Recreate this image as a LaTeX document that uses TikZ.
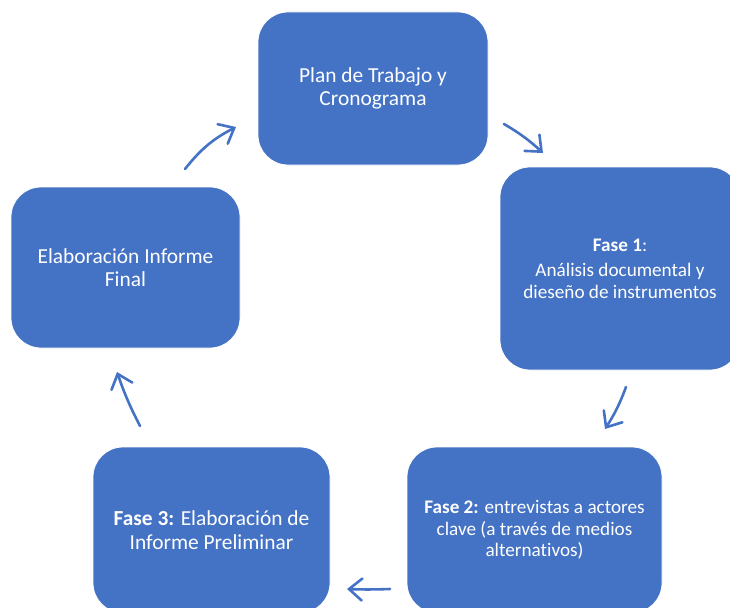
\documentclass[tikz,border=0pt]{standalone}
\usepackage{fontspec}
\setmainfont[Ligatures={NoCommon}]{Carlito}
\usetikzlibrary{arrows.meta}
\definecolor{boxblue}{HTML}{4472C4}
\tikzset{
  phase/.style={rectangle, rounded corners=30pt, fill=boxblue, draw=white, line width=0.8pt,
    text=white, align=center, inner sep=0pt, font=\fontsize{21.4}{23.5}\selectfont},
  phasesm/.style={phase, font=\fontsize{19.2}{21.5}\selectfont},
  cyc/.style={draw=boxblue, line width=2.6pt, line cap=round,
    -{Straight Barb[length=13pt,width=22pt,line cap=round]}}
}
\begin{document}
\begin{tikzpicture}[x=1pt,y=-1pt]
\useasboundingbox (0,0) rectangle (730,607);
\node[phase, minimum width=230pt, minimum height=153pt] (plan) at (373,88.5)
  {Plan de Trabajo y\\Cronograma};
\node[phasesm, minimum width=240pt, minimum height=203pt] (f1) at (620,268.5)
  {\textbf{Fase 1}:\\[4pt]Análisis documental y\\dieseño de instrumentos};
\node[phasesm, minimum width=255pt, minimum height=166pt] (f2) at (534.5,530)
  {\textbf{Fase 2:} entrevistas a actores\\clave (a través de medios\\alternativos)};
\node[phase, minimum width=237pt, minimum height=166pt] (f3) at (211.5,530)
  {\textbf{Fase 3:} Elaboración de\\Informe Preliminar};
\node[phase, minimum width=229pt, minimum height=161pt] (fin) at (125.5,267.5)
  {Elaboración Informe\\Final};
\coordinate (a1s) at (185,169); \coordinate (a1e) at (236,127);
\coordinate (a2s) at (504,124); \coordinate (a2e) at (543,153);
\coordinate (a3s) at (626,387); \coordinate (a3e) at (605,429);
\coordinate (a4s) at (390,589); \coordinate (a4e) at (347,589);
\coordinate (a5s) at (140,426); \coordinate (a5e) at (117,372);
\draw[cyc] (a1s) to[bend left=12] (a1e);
\draw[cyc] (a2s) to[bend left=6] (a2e);
\draw[cyc] (a3s) to[bend left=6] (a3e);
\draw[cyc] (a4s) to[bend left=2] (a4e);
\draw[cyc] (a5s) to[bend left=4] (a5e);
\end{tikzpicture}
\end{document}
